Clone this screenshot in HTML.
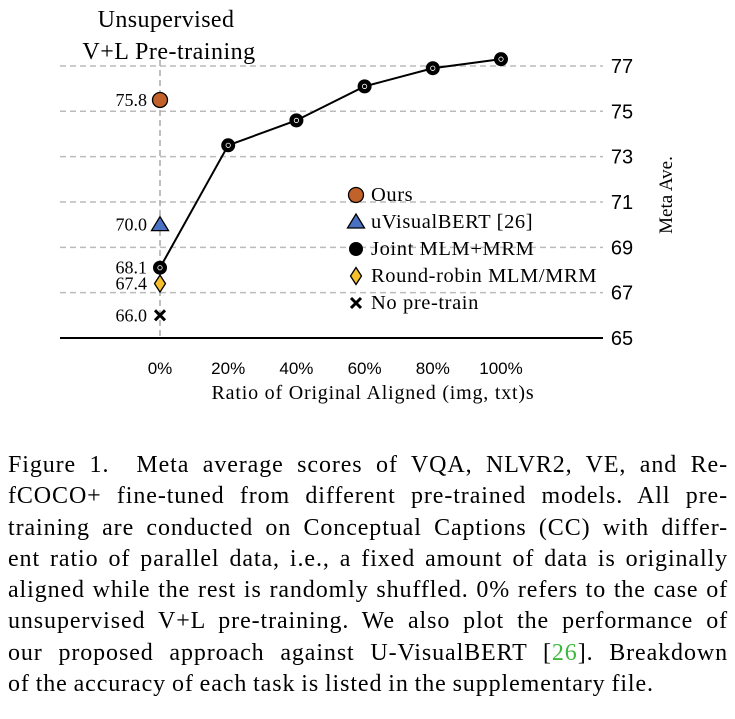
<!DOCTYPE html>
<html><head><meta charset="utf-8">
<style>
body{margin:0;width:735px;height:719px;background:#fff;overflow:hidden;font-family:"Liberation Serif",serif;}
#cap{position:absolute;left:8px;top:450px;width:720px;font-size:24px;letter-spacing:0.9px;word-spacing:-1px;line-height:31.3px;color:#000;}
#cap div{text-align:justify;text-align-last:justify;white-space:nowrap;}
#cap div.last{text-align-last:left}
.g{color:#3cb93c}
</style></head><body>
<svg id="chart" width="735" height="440" style="position:absolute;left:0;top:0" font-family="Liberation Serif, serif"></svg>
<div id="cap">
<div>Figure 1.&nbsp; Meta average scores of VQA, NLVR2, VE, and Re-</div>
<div>fCOCO+ fine-tuned from different pre-trained models. All pre-</div>
<div>training are conducted on Conceptual Captions (CC) with differ-</div>
<div>ent ratio of parallel data, i.e., a fixed amount of data is originally</div>
<div>aligned while the rest is randomly shuffled. 0% refers to the case of</div>
<div>unsupervised V+L pre-training. We also plot the performance of</div>
<div>our proposed approach against U-VisualBERT [<span class="g">26</span>]. Breakdown</div>
<div class="last">of the accuracy of each task is listed in the supplementary file.</div>
</div>
<script>
const categories=["0%","20%","40%","60%","80%","100%"];
const jointValues=[68.1,73.5,74.6,76.1,76.9,77.3];
const yTicks=[65,67,69,71,73,75,77];
const singleNames=["ours","uvisualbert","joint","roundrobin","nopretrain"];
const singleValues=[75.5,70.0,68.1,67.4,66.0];
const singleLabels=["75.8","70.0","68.1","67.4","66.0"];
const legendLabels=["Ours","uVisualBERT [26]","Joint MLM+MRM","Round-robin MLM/MRM","No pre-train"];

const svg=document.getElementById('chart');
const NS="http://www.w3.org/2000/svg";
const x=i=>160+i*68.2;
const y=v=>338-(v-65)*22.67;
function el(t,a,txt){const e=document.createElementNS(NS,t);for(const k in a)e.setAttribute(k,a[k]);if(txt!==undefined)e.textContent=txt;svg.appendChild(e);return e;}
function marker(kind,cx,cy){
  if(kind==="ours")return el('circle',{cx,cy,r:7.5,fill:'#c0622a',stroke:'#000','stroke-width':1.3});
  if(kind==="uvisualbert")return el('polygon',{points:`${cx},${cy-8} ${cx+8.5},${cy+6} ${cx-8.5},${cy+6}`,fill:'#4a72c4',stroke:'#000','stroke-width':1.3});
  if(kind==="joint"){const g=el('circle',{cx,cy,r:7,fill:'#000'});return g;}
  if(kind==="roundrobin")return el('polygon',{points:`${cx},${cy-8.5} ${cx+5.5},${cy} ${cx},${cy+8.5} ${cx-5.5},${cy}`,fill:'#f5c02a',stroke:'#000','stroke-width':1.3});
  return el('path',{d:`M${cx-5},${cy-5}L${cx+5},${cy+5}M${cx+5},${cy-5}L${cx-5},${cy+5}`,stroke:'#000','stroke-width':3});
}
yTicks.forEach(t=>{
  if(t>65){const l=el('line',{x1:60,x2:603,y1:y(t),y2:y(t),stroke:'#bbb','stroke-width':1.5,'stroke-dasharray':'6,4'});
  }
  const tx=el('text',{x:622,y:y(t)+7,'font-family':'Liberation Sans, sans-serif','font-size':20,'text-anchor':'middle'},t);
  
});
const vl=el('line',{x1:160,x2:160,y1:60,y2:338,stroke:'#aaa','stroke-width':1.5,'stroke-dasharray':'6,4'});

const ax=el('line',{x1:60,x2:603,y1:338,y2:338,stroke:'#000','stroke-width':2});

categories.forEach((c,i)=>{const t=el('text',{x:x(i),y:374,'font-family':'Liberation Sans, sans-serif','font-size':17,'text-anchor':'middle'},c);
});
const xt=el('text',{x:373,y:399,'font-size':20,'letter-spacing':0.8,'text-anchor':'middle'},'Ratio of Original Aligned (img, txt)s');

const yt=el('text',{x:0,y:0,'font-size':19,'text-anchor':'middle',transform:'translate(672,195) rotate(-90)'},'Meta Ave.');

const t1=el('text',{x:166,y:27,'font-size':24,'letter-spacing':0.4,'text-anchor':'middle'},'Unsupervised');

const t2=el('text',{x:169,y:59,'font-size':24,'letter-spacing':0.5,'text-anchor':'middle'},'V+L Pre-training');

const pl=el('polyline',{points:jointValues.map((v,i)=>x(i)+','+y(v)).join(' '),fill:'none',stroke:'#000','stroke-width':2});

jointValues.forEach((v,i)=>{const m=el('circle',{cx:x(i),cy:y(v),r:7,fill:'#000'});

el('circle',{cx:x(i),cy:y(v),r:2.2,fill:'none',stroke:'#fff','stroke-width':0.8});});
singleNames.forEach((n,i)=>{
  if(n!=="joint"){const m=marker(n,x(0),y(singleValues[i]));
  }
  const t=el('text',{x:147,y:y(singleValues[i])+6,'font-size':18,'text-anchor':'end'},singleLabels[i]);
  
});
legendLabels.forEach((l,i)=>{const cy=195+i*27;
  const m=marker(singleNames[i],356,cy);
  
  const t=el('text',{x:371,y:cy+6,'font-size':20.5,'letter-spacing':0.6},l);
  
});
</script>
</body></html>
